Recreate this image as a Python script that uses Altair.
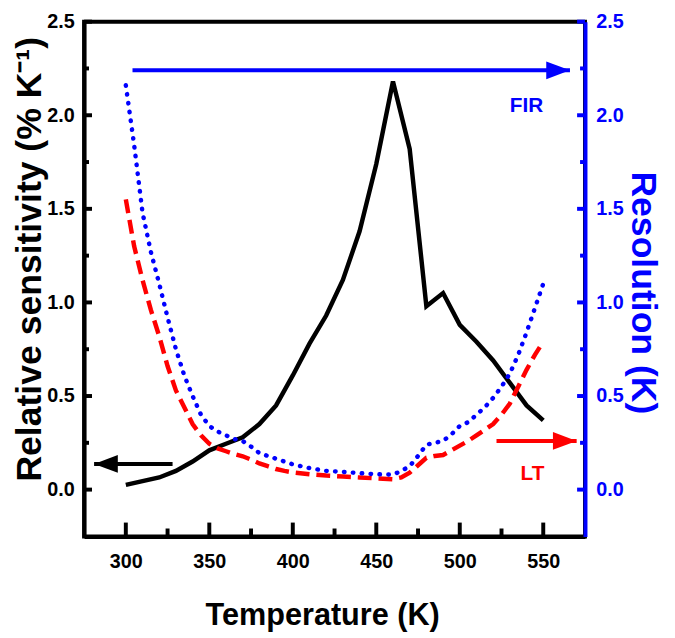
import altair as alt
import pandas as pd

# ---------------- data ----------------
temp_sens = [300, 310, 320, 330, 340, 350, 360, 370, 380, 390, 400, 410, 420,
             430, 440, 450, 460, 470, 480, 490, 500, 510, 520, 530, 540, 550]
rel_sens = [0.025, 0.045, 0.065, 0.10, 0.15, 0.21, 0.245, 0.28, 0.35, 0.45, 0.61,
            0.78, 0.93, 1.12, 1.38, 1.74, 2.18, 1.82, 0.98, 1.05, 0.88, 0.79,
            0.69, 0.57, 0.45, 0.37]

temp_res = [300, 305, 310, 315, 320, 325, 330, 335, 340, 345, 350, 355, 360, 365,
            370, 375, 380, 385, 390, 395, 400, 410, 420, 430, 440, 450, 460, 465,
            470, 475, 480, 485, 490, 495, 500, 505, 510, 515, 520, 525, 530, 535,
            540, 545, 550]
res_fir = [2.16, 1.84, 1.48, 1.27, 1.10, 0.92, 0.75, 0.61, 0.50, 0.40, 0.34, 0.31,
           0.29, 0.27, 0.26, 0.23, 0.195, 0.18, 0.165, 0.15, 0.135, 0.115, 0.10,
           0.095, 0.088, 0.082, 0.08, 0.10, 0.125, 0.18, 0.24, 0.25, 0.26, 0.295,
           0.34, 0.36, 0.40, 0.44, 0.49, 0.55, 0.62, 0.72, 0.84, 0.97, 1.10]
res_lt = [1.55, 1.30, 1.12, 0.96, 0.82, 0.66, 0.53, 0.44, 0.35, 0.29, 0.245, 0.22,
          0.205, 0.19, 0.178, 0.16, 0.14, 0.125, 0.11, 0.10, 0.092, 0.082, 0.075,
          0.07, 0.065, 0.06, 0.055, 0.065, 0.09, 0.13, 0.17, 0.18, 0.185, 0.21,
          0.235, 0.26, 0.29, 0.32, 0.35, 0.40, 0.46, 0.55, 0.64, 0.72, 0.79]

# annotation arrows (tail T, tip T, value) and labels
arrow_fir = [304, 566, 2.24]
arrow_sens = [328, 281, 0.137]
arrow_lt = [522, 570, 0.26]
label_fir = ["FIR", 540, 2.05]
label_lt = ["LT", 543.5, 0.084]

x_major = [300, 350, 400, 450, 500, 550]
x_minor = [325, 375, 425, 475, 525]
y_major = [0.0, 0.5, 1.0, 1.5, 2.0, 2.5]
y_minor = [0.25, 0.75, 1.25, 1.75, 2.25]

# ---------------- styling ----------------
BLUE = "#0000ff"
RED = "#ff0000"
BLACK = "#000000"
FONT = "Liberation Sans, Arial, sans-serif"
W, H = 507, 521

xs = alt.Scale(domain=[275, 575], nice=False, zero=False)
ys = alt.Scale(domain=[-0.25, 2.5], nice=False, zero=False)

sens_df = pd.DataFrame({"T": temp_sens, "v": rel_sens})
fir_df = pd.DataFrame({"T": temp_res, "v": res_fir})
lt_df = pd.DataFrame({"T": temp_res, "v": res_lt})

x_main = alt.Axis(orient="bottom", values=x_major, format="d", ticks=False, tickSize=0,
                  labelFont=FONT, labelFontSize=20, labelFontWeight="bold",
                  labelColor=BLACK, labelPadding=15, domainColor=BLACK,
                  domainWidth=4, grid=False, title="Temperature (K)",
                  titleFont=FONT, titleFontSize=31, titleFontWeight="bold",
                  titleColor=BLACK, titleX=241, titleY=89, titleAlign="center",
                  titleBaseline="alphabetic")
y_left = alt.Axis(orient="left", values=y_major, format=".1f", ticks=False, tickSize=0,
                  labelFont=FONT, labelFontSize=20, labelFontWeight="bold",
                  labelColor=BLACK, labelPadding=10, domainColor=BLACK,
                  domainWidth=4, grid=False, title="Relative sensitivity (% K⁻¹)",
                  titleFont=FONT, titleFontSize=36, titleFontWeight="bold",
                  titleColor=BLACK, titleAngle=270, titleX=-44, titleY=240,
                  titleAlign="center", titleBaseline="alphabetic")
y_right = alt.Axis(orient="right", values=y_major, format=".1f", ticks=False, tickSize=0,
                   labelFont=FONT, labelFontSize=20, labelFontWeight="bold",
                   labelColor=BLUE, labelPadding=11, domainColor=BLUE,
                   domainWidth=4, grid=False, title="Resolution (K)",
                   titleFont=FONT, titleFontSize=36, titleFontWeight="bold",
                   titleColor=BLUE, titleAngle=90, titleX=47, titleY=274,
                   titleAlign="center", titleBaseline="alphabetic")

sens_line = alt.Chart(sens_df).mark_line(color=BLACK, strokeWidth=4.5).encode(
    x=alt.X("T:Q", scale=xs, axis=x_main),
    y=alt.Y("v:Q", scale=ys, axis=y_left),
)

lt_line = alt.Chart(lt_df).mark_line(color=RED, strokeWidth=4.5, strokeDash=[14, 7]).encode(
    x=alt.X("T:Q", scale=xs, axis=None),
    y=alt.Y("v:Q", scale=ys, axis=y_right),
)

fir_line = alt.Chart(fir_df).mark_line(color=BLUE, strokeWidth=4.5, strokeDash=[0.5, 8.5],
                                       strokeCap="round").encode(
    x=alt.X("T:Q", scale=xs, axis=None),
    y=alt.Y("v:Q", scale=ys, axis=None),
)


# inward-pointing tick marks at the tick values, placed through the scales
def x_ticks(values, length, color):
    return alt.Chart(pd.DataFrame({"t": values})).mark_rule(
        color=color, strokeWidth=4).encode(
        x=alt.X("t:Q", scale=xs, axis=None),
        y=alt.value(H), y2=alt.value(H - length))


def y_ticks(values, length, side, color):
    x0 = 0 if side == "left" else W
    x1 = length if side == "left" else W - length
    return alt.Chart(pd.DataFrame({"t": values})).mark_rule(
        color=color, strokeWidth=4).encode(
        y=alt.Y("t:Q", scale=ys, axis=None),
        x=alt.value(x0), x2=alt.value(x1))


ticks = [
    x_ticks(x_major, 14, BLACK), x_ticks(x_minor, 8, BLACK),
    y_ticks(y_major, 8, "left", BLACK), y_ticks(y_minor, 5, "left", BLACK),
    y_ticks(y_major, 8, "right", BLUE), y_ticks(y_minor, 5, "right", BLUE),
]

arrows_df = pd.DataFrame({
    "a": ["fir", "sens", "lt"],
    "t0": [arrow_fir[0], arrow_sens[0], arrow_lt[0]],
    "t1": [arrow_fir[1], arrow_sens[1], arrow_lt[1]],
    "v": [arrow_fir[2], arrow_sens[2], arrow_lt[2]],
})
color_scale = alt.Scale(domain=["fir", "sens", "lt"], range=[BLUE, BLACK, RED])

arrow_lines = alt.Chart(arrows_df).mark_rule(strokeWidth=4).encode(
    x=alt.X("t0:Q", scale=xs, axis=None),
    x2="t1:Q",
    y=alt.Y("v:Q", scale=ys, axis=None),
    color=alt.Color("a:N", scale=color_scale, legend=None),
)

heads_r = alt.Chart(arrows_df[arrows_df.a != "sens"]).mark_point(
    shape="M0,0L-2,-0.75L-2,0.75Z", size=576, filled=True, opacity=1, strokeWidth=0
).encode(
    x=alt.X("t1:Q", scale=xs, axis=None),
    y=alt.Y("v:Q", scale=ys, axis=None),
    color=alt.Color("a:N", scale=color_scale, legend=None),
)
heads_l = alt.Chart(arrows_df[arrows_df.a == "sens"]).mark_point(
    shape="M0,0L2,-0.75L2,0.75Z", size=576, filled=True, opacity=1, strokeWidth=0
).encode(
    x=alt.X("t1:Q", scale=xs, axis=None),
    y=alt.Y("v:Q", scale=ys, axis=None),
    color=alt.Color("a:N", scale=color_scale, legend=None),
)

labels_df = pd.DataFrame({
    "txt": [label_fir[0], label_lt[0]],
    "T": [label_fir[1], label_lt[1]],
    "v": [label_fir[2], label_lt[2]],
    "a": ["fir", "lt"],
})
labels = alt.Chart(labels_df).mark_text(font=FONT, fontSize=21, fontWeight="bold",
                                         baseline="middle", align="center").encode(
    x=alt.X("T:Q", scale=xs, axis=None),
    y=alt.Y("v:Q", scale=ys, axis=None),
    text="txt:N",
    color=alt.Color("a:N", scale=color_scale, legend=None),
)

chart = alt.layer(
    sens_line, lt_line, fir_line, *ticks, arrow_lines, heads_r, heads_l, labels
).resolve_axis(
    x="independent", y="independent"
).properties(
    width=W, height=H,
    autosize=alt.AutoSizeParams(type="none"),
    padding={"left": 77, "top": 10, "right": 83, "bottom": 99},
    background="white",
).configure_view(
    stroke=BLACK, strokeWidth=4
)

chart.save("out.html", embed_options={"renderer": "svg", "actions": False})
